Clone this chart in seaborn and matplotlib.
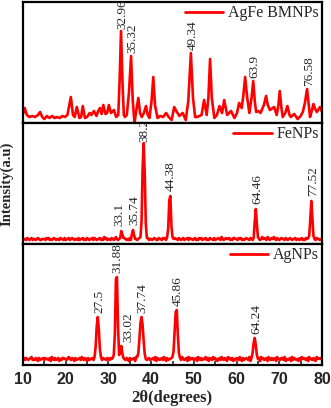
import numpy as np
import pandas as pd
import matplotlib
matplotlib.use("Agg")
import matplotlib.pyplot as plt
import seaborn as sns

# ---------------- data ----------------
# AgFe BMNPs (top panel): pattern read point by point
agfe_theta = [10.0, 10.4, 10.9, 11.5, 12.2, 12.8, 13.5, 14.0, 14.5, 15.0, 15.6, 16.2, 16.8, 17.4, 18.0,
              18.6, 19.2, 19.8, 20.4, 21.2, 21.7, 22.1, 22.6, 23.2, 23.6, 24.0, 24.5, 25.0, 25.6, 26.0,
              26.6, 27.2, 27.6, 28.0, 28.4, 28.8, 29.3, 29.7, 30.1, 30.6, 31.3, 31.8, 32.3, 32.6, 32.95,
              33.3, 33.6, 33.9, 34.3, 34.8, 35.3, 35.7, 36.1, 36.5, 37.0, 37.4, 37.8, 38.3, 38.8, 39.2,
              39.6, 40.1, 40.5, 40.9, 41.5, 42.1, 42.8, 43.5, 44.1, 44.8, 45.4, 45.9, 46.6, 47.4, 48.1,
              48.7, 49.3, 49.8, 50.3, 50.7, 51.3, 51.8, 52.4, 53.0, 53.4, 53.8, 54.2, 54.8, 55.4, 56.0,
              56.6, 57.1, 57.8, 58.7, 59.5, 60.1, 60.6, 61.2, 61.6, 62.0, 62.5, 63.0, 63.5, 63.9, 64.3,
              64.6, 65.1, 65.6, 66.4, 66.9, 67.3, 67.8, 68.8, 69.4, 69.8, 70.1, 70.5, 70.8, 71.4, 71.9,
              72.4, 72.7, 73.5, 74.3, 75.0, 75.5, 76.0, 76.5, 76.9, 77.2, 77.6, 78.0, 78.4, 78.8, 79.5,
              80.0]
agfe_int = [9, 15, 8, 6, 7, 6, 8, 11, 6, 4, 7, 5, 7, 5, 6,
            5, 7, 6, 8, 26, 8, 6, 16, 5, 6, 17, 5, 6, 10, 8,
            12, 7, 12, 15, 9, 18, 9, 10, 18, 10, 13, 6, 8, 40, 92,
            40, 8, 6, 8, 30, 67, 22, 0, 12, 25, 10, 6, 10, 17, 8,
            5, 22, 46, 18, 5, 7, 6, 10, 6, 3, 16, 12, 7, 10, 3,
            22, 70, 25, 6, 6, 7, 8, 23, 8, 25, 64, 25, 5, 8, 17,
            10, 23, 8, 12, 5, 10, 20, 15, 28, 46, 25, 10, 25, 42, 20,
            11, 12, 10, 18, 27, 18, 13, 16, 8, 18, 32, 15, 6, 10, 17,
            8, 6, 9, 4, 7, 11, 20, 34, 18, 6, 12, 19, 14, 11, 16,
            11]

# FeNPs and AgNPs: 2theta step 0.25 deg from 10 to 80 (281 points)
theta_start, theta_step, n_points = 10.0, 0.25, 281
fe_baseline = ("45546545645545654455" "54656454565455465546" "45564565455464556454"
               "65455646545564547564" "55465457545645565454" "64556454565456455645"
               "54565446554656454565" "45655465456455646554" "56454656455645465546"
               "45565475456556454665" "54656454565546545654" "65457565476456575465"
               "45655465456545564554" "56454656455645465545" "5")
fe_peak_start = [32.75, 35.5, 37.5, 43.75, 64.0, 77.0]
fe_peak_profile = [[6, 13, 10, 6], [10, 14, 9, 5], [7, 22, 75, 101, 70, 20, 6],
                   [7, 16, 44, 48, 18, 7], [6, 22, 35, 20, 7], [8, 24, 43, 26, 8]]

ag_baseline = ("67576567856576475667" "57665748657567465776" "65786576475667586576"
               "47566758657486576657" "65768576475675865764" "75667485667574865675"
               "66758476567586475667" "58657467586567485767" "56748657566857476586"
               "75467586576486757465" "76586475676584675766" "57486756748657567486"
               "65775846567485765647" "58676574866575486767" "6")
ag_peak_start = [26.75, 31.0, 36.75, 45.0, 63.5]
ag_peak_profile = [[8, 18, 38, 48, 36, 16, 8],
                   [7, 10, 30, 86, 88, 38, 10, 12, 19, 12, 7],
                   [8, 12, 26, 42, 48, 40, 24, 11, 6],
                   [8, 14, 34, 53, 55, 30, 12, 7],
                   [7, 12, 22, 27, 20, 10, 6]]

# peak labels (value, peak intensity)
agfe_labels = ["32.96", "35.32", "49.34", "63.9", "76.58"]
agfe_label_height = [92, 67, 70, 42, 34]
fe_labels = ["33.1", "35.74", "38.2", "44.38", "64.46", "77.52"]
fe_label_height = [13, 14, 101, 48, 35, 43]
ag_labels = ["27.5", "31.88", "33.02", "37.74", "45.86", "64.24"]
ag_label_height = [48, 88, 19, 48, 55, 27]

series_names = ["AgFe BMNPs", "FeNPs", "AgNPs"]
x_ticks = [10, 20, 30, 40, 50, 60, 70, 80]


def build(baseline, starts, profiles):
    theta = theta_start + theta_step * np.arange(n_points)
    y = np.array([int(c) for c in baseline], dtype=float)
    for s, prof in zip(starts, profiles):
        i = int(round((s - theta_start) / theta_step))
        y[i:i + len(prof)] = prof
    return pd.DataFrame({"theta": theta, "intensity": y})


df_agfe = pd.DataFrame({"theta": agfe_theta, "intensity": agfe_int})
df_fe = build(fe_baseline, fe_peak_start, fe_peak_profile)
df_ag = build(ag_baseline, ag_peak_start, ag_peak_profile)

# ---------------- plot ----------------
sns.set_style("white")
plt.rcParams["font.family"] = ["Liberation Serif", "DejaVu Serif"]

W, H = 331, 408
fig = plt.figure(figsize=(W / 100, H / 100), dpi=100)
left, right = 23 / W, 322 / W
top_px, bot_px = 2, 365
ph = (bot_px - top_px) / 3

label_sets = [
    (agfe_labels, agfe_label_height, {}, {"32.96": 2}, 3),
    (fe_labels, fe_label_height, {"33.1": -0.8}, {"38.2": 1}, 5),
    (ag_labels, ag_label_height, {"33.02": 1.4}, {}, 4),
]
dfs = [df_agfe, df_fe, df_ag]
axes = []
for k, (df, name) in enumerate(zip(dfs, series_names)):
    y0 = top_px + k * ph
    ax = fig.add_axes([left, 1 - (y0 + ph) / H, right - left, ph / H])
    axes.append(ax)
    sns.lineplot(data=df, x="theta", y="intensity", ax=ax, color="#ff0000",
                 lw=1.9, label=name, sort=False)
    ax.set_xlim(10, 80)
    ax.set_ylim(0, 121)
    ax.set_xlabel("")
    ax.set_ylabel("")
    ax.set_yticks([])
    for sp in ax.spines.values():
        sp.set_linewidth(1.6)
        sp.set_color("black")
        sp.set_visible(True)
    labels, heights, dx, gaps, gap = label_sets[k]
    for lab, h in zip(labels, heights):
        ax.text(float(lab) + dx.get(lab, 0) + 0.3, h + gaps.get(lab, gap), lab,
                rotation=90, ha="center", va="bottom", fontsize=9.5,
                family="Liberation Serif", clip_on=(k == 1))
    leg = ax.legend(loc="upper right", frameon=False, handlelength=2.4,
                    borderaxespad=0.0, borderpad=0.2, handletextpad=0.3,
                    prop={"family": "Liberation Serif", "size": 11.5})
    for line in leg.get_lines():
        line.set_linewidth(2.0)
    if k < 2:
        ax.set_xticks([])
    else:
        ax.set_xticks(x_ticks)
        ax.set_xticks(np.arange(15, 80, 10), minor=True)
        ax.tick_params(axis="x", which="both", direction="in", length=3, width=1.2,
                       bottom=True, pad=5)
        for t in ax.get_xticklabels():
            t.set_family("Liberation Sans")
            t.set_fontweight("bold")
            t.set_fontsize(11.5)

fig.text(172 / W, 1 - 398 / H, "2θ(degrees)", ha="center", va="center",
         fontsize=12, fontweight="bold", family="Liberation Serif")
fig.text(7 / W, 1 - 184 / H, "Intensity(a.u)", ha="center", va="center",
         rotation=90, fontsize=10.5, fontweight="bold", family="Liberation Serif")

fig.savefig("out.png", dpi=100)
